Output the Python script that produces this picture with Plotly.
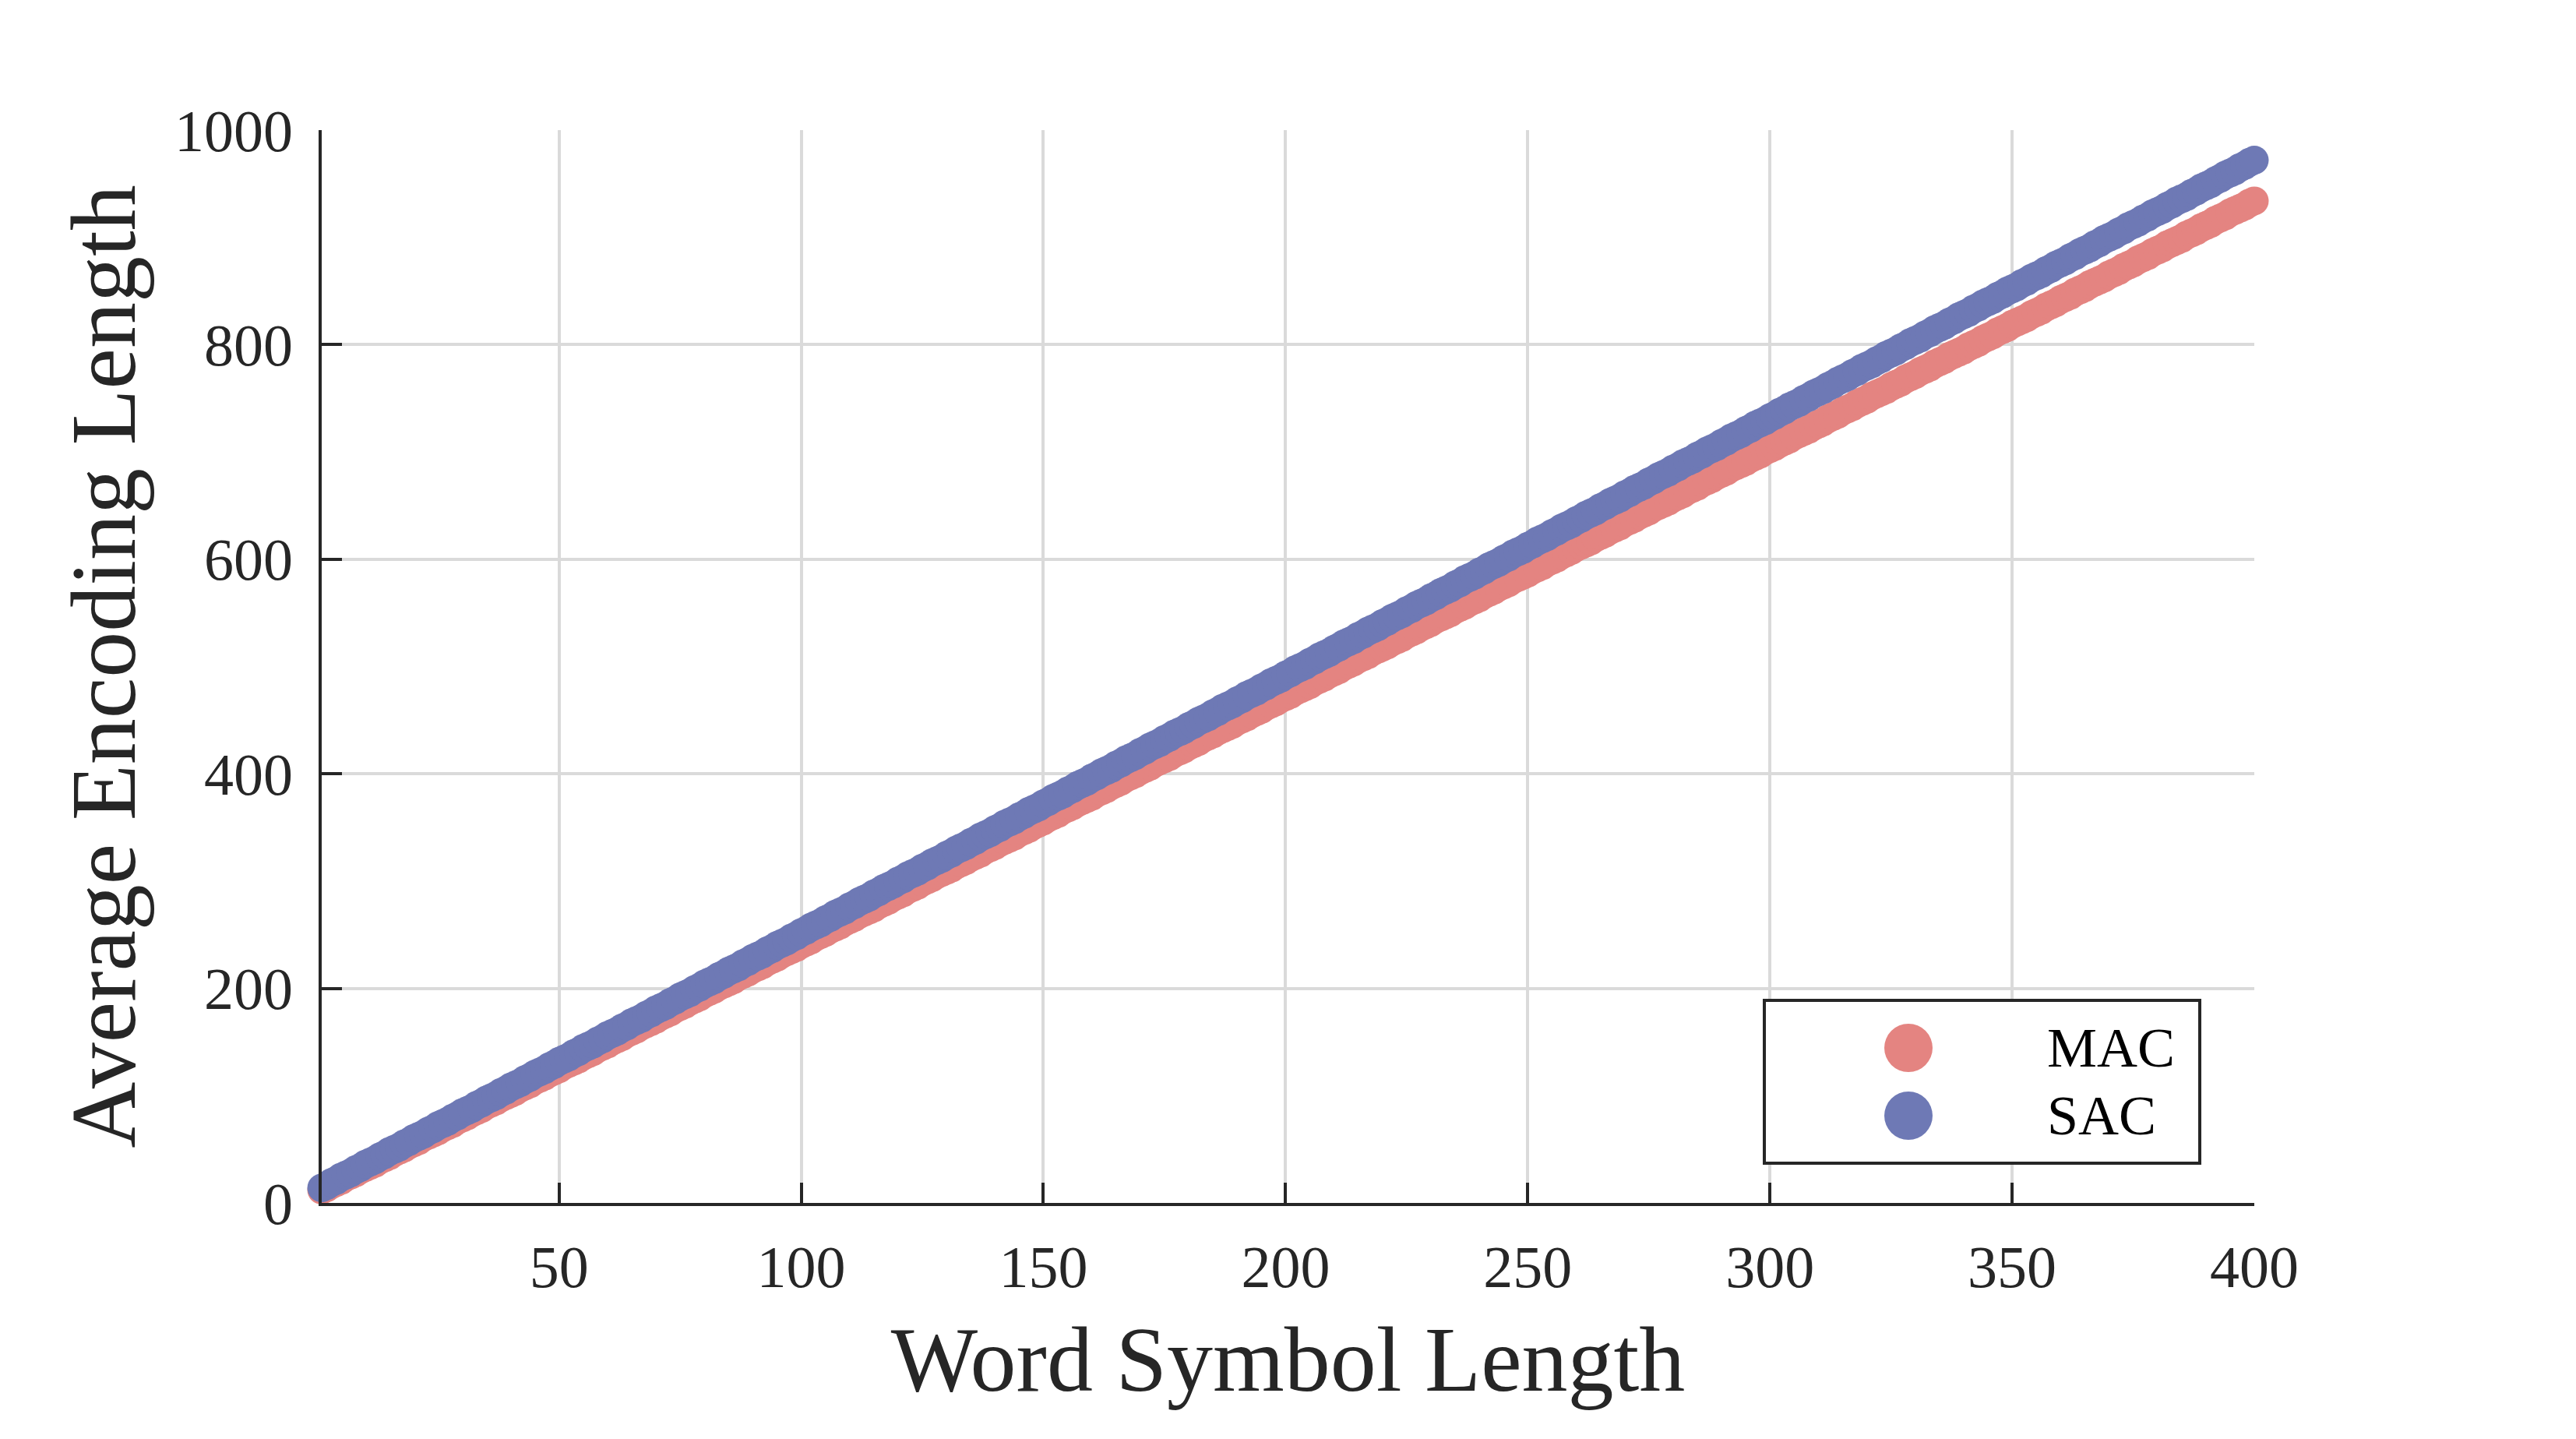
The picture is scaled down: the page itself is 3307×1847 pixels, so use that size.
"""Average encoding length vs word symbol length, MAC vs SAC."""

import plotly.graph_objects as go

# Word symbol length (x positions)
word_length = list(range(1, 401))

# Average encoding length, one value per word length
mac_length = [
    12, 14, 17, 19, 21, 24, 26, 28, 31, 33, 35, 37, 40, 42, 44, 47, 49, 51, 54, 56,
    58, 61, 63, 65, 67, 70, 72, 74, 77, 79, 81, 84, 86, 88, 91, 93, 95, 98, 100, 102,
    104, 107, 109, 111, 114, 116, 118, 121, 123, 125, 128, 130, 132, 134, 137, 139, 141, 144, 146, 148,
    151, 153, 155, 158, 160, 162, 165, 167, 169, 171, 174, 176, 178, 181, 183, 185, 188, 190, 192, 195,
    197, 199, 202, 204, 206, 208, 211, 213, 215, 218, 220, 222, 225, 227, 229, 232, 234, 236, 238, 241,
    243, 245, 248, 250, 252, 255, 257, 259, 262, 264, 266, 269, 271, 273, 275, 278, 280, 282, 285, 287,
    289, 292, 294, 296, 299, 301, 303, 306, 308, 310, 312, 315, 317, 319, 322, 324, 326, 329, 331, 333,
    336, 338, 340, 342, 345, 347, 349, 352, 354, 356, 359, 361, 363, 366, 368, 370, 373, 375, 377, 379,
    382, 384, 386, 389, 391, 393, 396, 398, 400, 403, 405, 407, 410, 412, 414, 416, 419, 421, 423, 426,
    428, 430, 433, 435, 437, 440, 442, 444, 446, 449, 451, 453, 456, 458, 460, 463, 465, 467, 470, 472,
    474, 477, 479, 481, 483, 486, 488, 490, 493, 495, 497, 500, 502, 504, 507, 509, 511, 514, 516, 518,
    520, 523, 525, 527, 530, 532, 534, 537, 539, 541, 544, 546, 548, 550, 553, 555, 557, 560, 562, 564,
    567, 569, 571, 574, 576, 578, 581, 583, 585, 587, 590, 592, 594, 597, 599, 601, 604, 606, 608, 611,
    613, 615, 617, 620, 622, 624, 627, 629, 631, 634, 636, 638, 641, 643, 645, 648, 650, 652, 654, 657,
    659, 661, 664, 666, 668, 671, 673, 675, 678, 680, 682, 685, 687, 689, 691, 694, 696, 698, 701, 703,
    705, 708, 710, 712, 715, 717, 719, 721, 724, 726, 728, 731, 733, 735, 738, 740, 742, 745, 747, 749,
    752, 754, 756, 758, 761, 763, 765, 768, 770, 772, 775, 777, 779, 782, 784, 786, 789, 791, 793, 795,
    798, 800, 802, 805, 807, 809, 812, 814, 816, 819, 821, 823, 825, 828, 830, 832, 835, 837, 839, 842,
    844, 846, 849, 851, 853, 856, 858, 860, 862, 865, 867, 869, 872, 874, 876, 879, 881, 883, 886, 888,
    890, 893, 895, 897, 899, 902, 904, 906, 909, 911, 913, 916, 918, 920, 923, 925, 927, 929, 932, 934,
]

sac_length = [
    14, 16, 19, 21, 24, 26, 28, 31, 33, 36, 38, 40, 43, 45, 48, 50, 52, 55, 57, 60,
    62, 64, 67, 69, 72, 74, 76, 79, 81, 84, 86, 88, 91, 93, 96, 98, 100, 103, 105, 108,
    110, 112, 115, 117, 120, 122, 124, 127, 129, 132, 134, 136, 139, 141, 144, 146, 148, 151, 153, 156,
    158, 160, 163, 165, 168, 170, 172, 175, 177, 180, 182, 184, 187, 189, 192, 194, 196, 199, 201, 204,
    206, 208, 211, 213, 216, 218, 220, 223, 225, 228, 230, 232, 235, 237, 240, 242, 244, 247, 249, 252,
    254, 257, 259, 261, 264, 266, 269, 271, 273, 276, 278, 281, 283, 285, 288, 290, 293, 295, 297, 300,
    302, 305, 307, 309, 312, 314, 317, 319, 321, 324, 326, 329, 331, 333, 336, 338, 341, 343, 345, 348,
    350, 353, 355, 357, 360, 362, 365, 367, 369, 372, 374, 377, 379, 381, 384, 386, 389, 391, 393, 396,
    398, 401, 403, 405, 408, 410, 413, 415, 417, 420, 422, 425, 427, 429, 432, 434, 437, 439, 441, 444,
    446, 449, 451, 453, 456, 458, 461, 463, 465, 468, 470, 473, 475, 477, 480, 482, 485, 487, 489, 492,
    494, 497, 499, 501, 504, 506, 509, 511, 513, 516, 518, 521, 523, 525, 528, 530, 533, 535, 537, 540,
    542, 545, 547, 549, 552, 554, 557, 559, 561, 564, 566, 569, 571, 573, 576, 578, 581, 583, 585, 588,
    590, 593, 595, 597, 600, 602, 605, 607, 609, 612, 614, 617, 619, 621, 624, 626, 629, 631, 633, 636,
    638, 641, 643, 645, 648, 650, 653, 655, 657, 660, 662, 665, 667, 669, 672, 674, 677, 679, 681, 684,
    686, 689, 691, 693, 696, 698, 701, 703, 705, 708, 710, 713, 715, 717, 720, 722, 725, 727, 729, 732,
    734, 737, 739, 742, 744, 746, 749, 751, 754, 756, 758, 761, 763, 766, 768, 770, 773, 775, 778, 780,
    782, 785, 787, 790, 792, 794, 797, 799, 802, 804, 806, 809, 811, 814, 816, 818, 821, 823, 826, 828,
    830, 833, 835, 838, 840, 842, 845, 847, 850, 852, 854, 857, 859, 862, 864, 866, 869, 871, 874, 876,
    878, 881, 883, 886, 888, 890, 893, 895, 898, 900, 902, 905, 907, 910, 912, 914, 917, 919, 922, 924,
    926, 929, 931, 934, 936, 938, 941, 943, 946, 948, 950, 953, 955, 958, 960, 962, 965, 967, 970, 972,
]

series_names = ['MAC', 'SAC']
series_colors = ['#E48481', '#6E79B5']

FONT = 'Liberation Serif, Times New Roman, serif'
INK = '#262626'
GRID = '#DADADA'

W, H = 3307, 1847
# page body adds 8px, so the margins are shifted to land the axes where the original has them
L, R, T, B = 405, 421, 159, 311
PAD = 8


def px_x(p):
    return (p - PAD - L) / (W - L - R)


def px_y(p):
    return (H - B - (p - PAD)) / (H - T - B)


fig = go.Figure()

for name, values, color in zip(series_names, [mac_length, sac_length], series_colors):
    fig.add_trace(go.Scatter(
        x=word_length,
        y=values,
        mode='markers',
        name=name,
        marker=dict(color=color, size=37, line=dict(width=0)),
        cliponaxis=False,
        showlegend=False,
    ))

# Hand-drawn legend box (big round symbols like the original)
shapes = [dict(
    type='rect', xref='paper', yref='paper',
    x0=px_x(2265), x1=px_x(2824), y0=px_y(1493), y1=px_y(1284),
    line=dict(color=INK, width=4), fillcolor='white', layer='above',
)]
annotations = []
for i, (name, color) in enumerate(zip(series_names, series_colors)):
    cy = 1345 + i * 87
    shapes.append(dict(
        type='circle', xref='paper', yref='paper',
        x0=px_x(2450 - 31), x1=px_x(2450 + 31), y0=px_y(cy + 31), y1=px_y(cy - 31),
        line=dict(width=0), fillcolor=color, layer='above',
    ))
    annotations.append(dict(
        xref='paper', yref='paper', x=px_x(2626), y=px_y(cy),
        xanchor='left', yanchor='middle', showarrow=False,
        text=name, font=dict(family=FONT, size=72, color='black'),
    ))

fig.update_layout(
    width=W,
    height=H,
    margin=dict(l=L, r=R, t=T, b=B),
    paper_bgcolor='white',
    plot_bgcolor='white',
    font=dict(family=FONT, color=INK),
    shapes=shapes,
    annotations=annotations,
    showlegend=False,
)

fig.update_xaxes(
    range=[1, 400],
    tick0=0, dtick=50,
    ticks='inside', ticklen=26, tickwidth=3.5, tickcolor=INK,
    showline=True, linecolor=INK, linewidth=3.5,
    showgrid=True, gridcolor=GRID, gridwidth=4,
    zeroline=False,
    tickfont=dict(family=FONT, size=76, color=INK),
    ticklabelstandoff=13,
    title=dict(text='Word Symbol Length', font=dict(family=FONT, size=118, color=INK), standoff=36),
)
fig.update_yaxes(
    range=[0, 1000],
    tick0=0, dtick=200,
    ticks='inside', ticklen=26, tickwidth=3.5, tickcolor=INK,
    showline=True, linecolor=INK, linewidth=3.5,
    showgrid=True, gridcolor=GRID, gridwidth=4,
    zeroline=False,
    tickfont=dict(family=FONT, size=76, color=INK),
    ticklabelstandoff=18,
    title=dict(text='Average Encoding Length', font=dict(family=FONT, size=118, color=INK), standoff=12),
)

fig.write_html("out.html")
